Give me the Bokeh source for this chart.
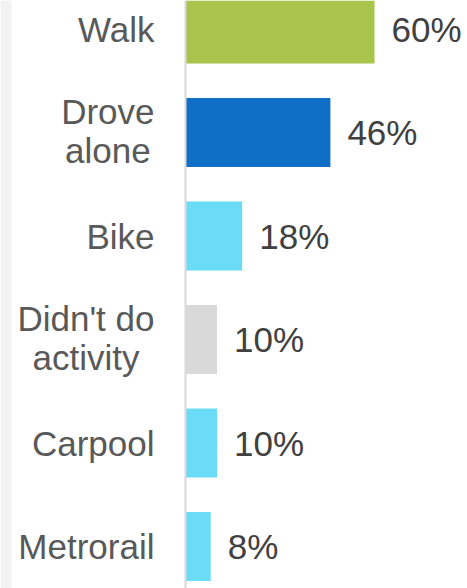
from bokeh.plotting import figure
from bokeh.models import ColumnDataSource, Range1d, Span, BoxAnnotation
from bokeh.core.properties import value
from bokeh.embed import file_html
from bokeh.resources import INLINE

categories = ["Walk", "Drove\nalone", "Bike", "Didn't do\nactivity", "Carpool", "Metrorail"]
values = [60, 46, 18, 10, 10, 8]
value_labels = ["60%", "46%", "18%", "10%", "10%", "8%"]
colors = ["#A9C34B", "#0F6EC6", "#6BDCF8", "#D9D9D9", "#6BDCF8", "#6BDCF8"]

pos = list(range(len(categories)))
cat_dy = [-2 if "\n" in c else 0 for c in categories]
src = ColumnDataSource(dict(y=pos, v=values, lab=value_labels, cat=categories,
                            c=colors, zero=[0] * len(pos), dy=cat_dy))

W, H = 467, 588
scale = 3.15
x0 = 185
y0, pitch = 28.5, 103.5
p = figure(width=W, height=H, output_backend="svg", toolbar_location=None,
           x_range=Range1d(-x0 / scale, (W - x0) / scale),
           y_range=Range1d((H - y0) / pitch, -y0 / pitch),
           min_border=0, outline_line_color=None)
p.axis.visible = False
p.grid.visible = False
p.background_fill_color = "white"
p.border_fill_color = "white"

p.hbar(y="y", right="v", left=0, height=0.667, fill_color="c", line_color=None, source=src)

p.text(x="v", y="y", text="lab", source=src, x_offset=17, y_offset=0, text_align="left",
       text_baseline="middle", text_font=value("Liberation Sans"),
       text_font_size="35px", text_color="#404040")

p.text(x="zero", y="y", text="cat", source=src, x_offset=-31, y_offset="dy", text_align="center",
       anchor="center_right", text_baseline="middle", text_line_height=1.0,
       text_font=value("Liberation Sans"), text_font_size="35px", text_color="#595959")

p.add_layout(Span(location=0, dimension="height", line_color="#D9D9D9", line_width=2))
p.add_layout(BoxAnnotation(left=0, right=11, left_units="screen", right_units="screen",
                           fill_color="#F2F2F2", fill_alpha=1, line_alpha=0))

open("out.html", "w").write(file_html(p, INLINE))
